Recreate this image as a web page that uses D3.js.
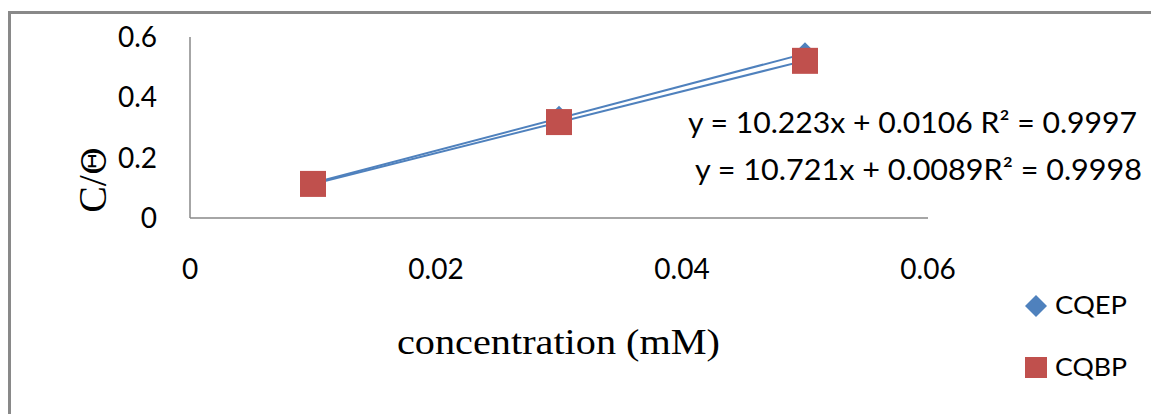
<html lang="en">
<head>
<meta charset="UTF-8">
<script src="https://d3js.org/d3.v7.min.js"></script>
<style>
  body { margin:0; background:#fff; }
</style>
</head>
<body>
<div id="chart"></div>
<script>
// data
const conc = [0.01, 0.03, 0.05];
const cqep = [0.115, 0.336, 0.546];
const cqbp = [0.113, 0.318, 0.521];
const seriesNames = ["CQEP", "CQBP"];
const fitSlope = [10.721, 10.223];
const fitIntercept = [0.0089, 0.0106];
const fitLabels = ["y = 10.223x + 0.0106 R\u00B2 = 0.9997", "y = 10.721x + 0.0089R\u00B2 = 0.9998"];
const xTicks = [0, 0.02, 0.04, 0.06];
const yTicks = [0, 0.2, 0.4, 0.6];

const blue = "#4f81bd", red = "#c0504d", grey = "#898989";
const sans = "Lato, 'Liberation Sans', sans-serif";
const serif = "'Liberation Serif', 'DejaVu Serif', serif";

const svg = d3.select("#chart")
  .append("svg")
  .attr("width", 1151)
  .attr("height", 414);

// chart frame
svg.append("path")
  .attr("d", "M9.5,420 V12.5 H1160")
  .attr("fill", "none")
  .attr("stroke", grey)
  .attr("stroke-width", 3);

const x = d3.scaleLinear().domain([0, 0.06]).range([190, 928]);
const y = d3.scaleLinear().domain([0, 0.6]).range([218, 37]);

// axis lines
svg.append("line")
  .attr("x1", x(0)).attr("x2", x(0.06))
  .attr("y1", y(0)).attr("y2", y(0))
  .attr("stroke", grey).attr("stroke-width", 1.5);
svg.append("line")
  .attr("x1", x(0)).attr("x2", x(0))
  .attr("y1", y(0)).attr("y2", y(0.6))
  .attr("stroke", grey).attr("stroke-width", 1.5);

// tick labels (x labels sit well below the axis, like the original)
svg.append("g").selectAll("text")
  .data(yTicks)
  .enter().append("text")
  .attr("x", 157)
  .attr("y", d => y(d))
  .attr("dy", "0.36em")
  .attr("text-anchor", "end")
  .style("font-family", sans)
  .style("font-size", "28px")
  .text(d => d);

svg.append("g").selectAll("text")
  .data(xTicks)
  .enter().append("text")
  .attr("x", d => x(d))
  .attr("y", 279)
  .attr("text-anchor", "middle")
  .style("font-family", sans)
  .style("font-size", "28px")
  .text(d => d);

// axis titles
const yTitle = svg.append("text")
  .attr("transform", "translate(106,180) rotate(-90)")
  .attr("text-anchor", "middle")
  .style("font-family", serif)
  .style("font-size", "40px");
yTitle.append("tspan").text("C/");
yTitle.append("tspan")
  .style("font-family", "'DejaVu Serif', serif")
  .style("font-size", "34px")
  .style("font-weight", "200")
  .text("\u0398");

svg.append("text")
  .attr("x", 397)
  .attr("y", 354)
  .attr("textLength", 323)
  .attr("lengthAdjust", "spacingAndGlyphs")
  .style("font-family", serif)
  .style("font-size", "36px")
  .text("concentration (mM)");

// trend lines
fitSlope.forEach(function(m, i) {
  svg.append("line")
    .attr("x1", x(conc[0])).attr("y1", y(m * conc[0] + fitIntercept[i]))
    .attr("x2", x(conc[2])).attr("y2", y(m * conc[2] + fitIntercept[i]))
    .attr("stroke", blue)
    .attr("stroke-width", 2);
});

// CQEP diamonds
svg.append("g").selectAll("path")
  .data(conc)
  .enter().append("path")
  .attr("transform", (d, i) => `translate(${x(d)},${y(cqep[i])})`)
  .attr("d", "M0,-11 L11,0 L0,11 L-11,0 Z")
  .attr("fill", blue);

// CQBP squares
svg.append("g").selectAll("rect")
  .data(conc)
  .enter().append("rect")
  .attr("x", d => x(d) - 13)
  .attr("y", (d, i) => y(cqbp[i]) - 13)
  .attr("width", 26)
  .attr("height", 26)
  .attr("fill", red);

// equation labels
svg.append("g").selectAll("text")
  .data(fitLabels)
  .enter().append("text")
  .attr("x", (d, i) => i ? 695 : 688)
  .attr("y", (d, i) => 133 + i * 47)
  .attr("textLength", (d, i) => i ? 447 : 449)
  .attr("lengthAdjust", "spacingAndGlyphs")
  .style("font-family", sans)
  .style("font-size", "28px")
  .text(d => d);

// legend
const legend = svg.append("g");
legend.append("path")
  .attr("transform", "translate(1036,306)")
  .attr("d", "M0,-11 L11,0 L0,11 L-11,0 Z")
  .attr("fill", blue);
legend.append("rect")
  .attr("x", 1025).attr("y", 357)
  .attr("width", 22).attr("height", 21)
  .attr("fill", red);
legend.selectAll("text")
  .data(seriesNames)
  .enter().append("text")
  .attr("x", 1055)
  .attr("y", (d, i) => 314 + i * 62)
  .attr("textLength", 72)
  .attr("lengthAdjust", "spacingAndGlyphs")
  .style("font-family", sans)
  .style("font-size", "25px")
  .text(d => d);
</script>
</body>
</html>
